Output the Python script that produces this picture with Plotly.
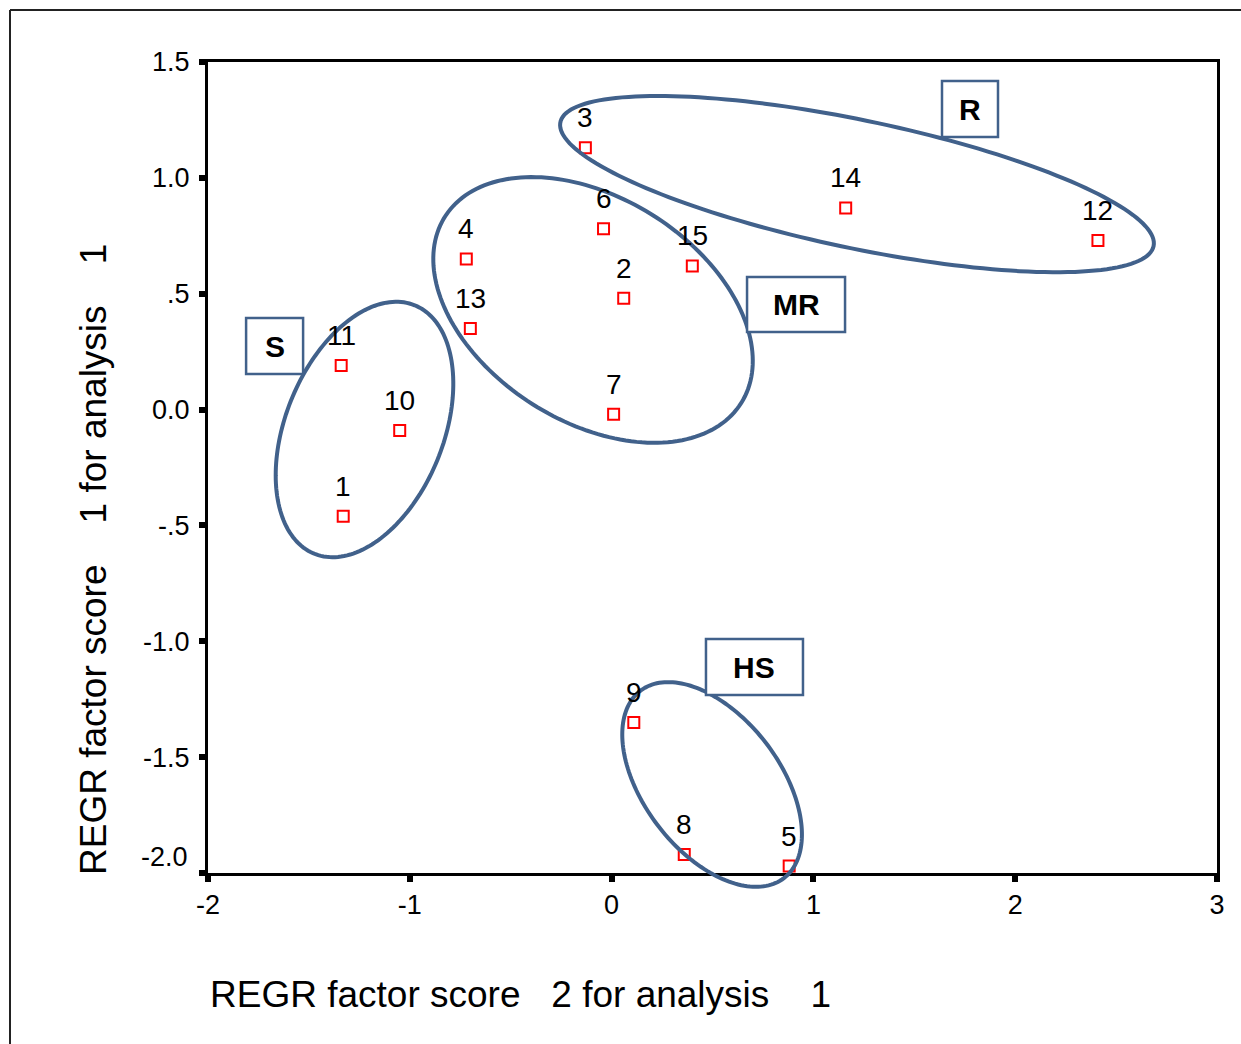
import numpy as np
import plotly.graph_objects as go

# ---- data ----
case_ids = ["1", "2", "3", "4", "5", "6", "7", "8", "9", "10", "11", "12", "13", "14", "15"]
factor2 = [-1.33, 0.06, -0.13, -0.72, 0.88, -0.04, 0.01, 0.36, 0.11, -1.05, -1.34, 2.41, -0.70, 1.16, 0.40]
factor1 = [-0.46, 0.48, 1.13, 0.65, -1.97, 0.78, -0.02, -1.92, -1.35, -0.09, 0.19, 0.73, 0.35, 0.87, 0.62]

x_ticks = [-2, -1, 0, 1, 2, 3]
x_ticktext = ["-2", "-1", "0", "1", "2", "3"]
y_ticks = [1.5, 1.0, 0.5, 0.0, -0.5, -1.0, -1.5, -2.0]
y_ticktext = ["1.5", "1.0", ".5", "0.0", "-.5", "-1.0", "-1.5", "-2.0"]

group_names = ["S", "MR", "R", "HS"]
group_label_x = [-1.67, 0.914, 1.776, 0.708]
group_label_y = [0.274, 0.453, 1.297, -1.111]
group_box_w = [57, 98, 56, 97]   # px
group_box_h = [56, 55, 56, 56]   # px

ell_cx = [-1.2245, -0.092, 1.216, 0.498]
ell_cy = [-0.086, 0.430, 0.973, -1.618]
ell_a = [134, 175, 303, 118]     # px semi-major
ell_b = [79, 112, 64, 68]        # px semi-minor
ell_theta = [-68, 32.1, 11.8, 52.5]  # deg, screen (down-right positive)

# ---- layout geometry ----
W, H = 1241, 1044
ML, MR_, MT, MB = 208, 24, 62, 171
XR = [-2, 3]
YR = [-2, 1.5]
PW = W - ML - MR_
PH = H - MT - MB


def to_px(xv):
    return (xv - XR[0]) / (XR[1] - XR[0]) * PW


def to_py(yv):
    return (yv - YR[0]) / (YR[1] - YR[0]) * PH


FONT = "Arial, 'Liberation Sans', sans-serif"
BLUE = "#41618B"

fig = go.Figure()
fig.add_trace(go.Scatter(
    x=factor2, y=factor1, mode="markers",
    marker=dict(symbol="square-open", size=11, color="#FF0000", line=dict(width=2, color="#FF0000")),
    cliponaxis=False, hoverinfo="skip", showlegend=False,
))

annotations = []
for cid, xv, yv in zip(case_ids, factor2, factor1):
    annotations.append(dict(x=xv, y=yv, text=cid, showarrow=False, yshift=30,
                            font=dict(family=FONT, size=28, color="#000")))

shapes = []
t = np.linspace(0, 2 * np.pi, 180)
for cx, cy, a, b, th in zip(ell_cx, ell_cy, ell_a, ell_b, ell_theta):
    r = np.deg2rad(th)
    dx = a * np.cos(t) * np.cos(r) - b * np.sin(t) * np.sin(r)
    dy = a * np.cos(t) * np.sin(r) + b * np.sin(t) * np.cos(r)
    xs = (to_px(cx) + dx) / PW
    ys = (to_py(cy) - dy) / PH
    path = "M " + " L ".join(f"{u:.5f},{v:.5f}" for u, v in zip(xs, ys)) + " Z"
    shapes.append(dict(type="path", path=path, xref="paper", yref="paper",
                       line=dict(color=BLUE, width=4), layer="above"))

for name, gx, gy, bw, bh in zip(group_names, group_label_x, group_label_y, group_box_w, group_box_h):
    px0, py0 = to_px(gx), to_py(gy)
    shapes.append(dict(type="rect", xref="paper", yref="paper",
                       x0=(px0 - bw / 2) / PW, x1=(px0 + bw / 2) / PW,
                       y0=(py0 - bh / 2) / PH, y1=(py0 + bh / 2) / PH,
                       line=dict(color=BLUE, width=2.5), fillcolor="white", layer="above"))
    annotations.append(dict(x=gx, y=gy, text=f"<b>{name}</b>", showarrow=False,
                            font=dict(family=FONT, size=30, color="#000")))

# outer frame (left and top lines)
fx0 = (10 - ML) / PW
fy_top = (H - MB - 10) / PH
shapes.append(dict(type="line", xref="paper", yref="paper", x0=fx0, x1=fx0, y0=fy_top, y1=-0.3,
                   line=dict(color="#222", width=2)))
shapes.append(dict(type="line", xref="paper", yref="paper", x0=fx0, x1=1.1, y0=fy_top, y1=fy_top,
                   line=dict(color="#222", width=2)))

# bottom y tick label sits slightly above its tick in the original
y_ticktext_axis = list(y_ticktext)
y_ticktext_axis[-1] = ""
annotations.append(dict(xref="paper", y=y_ticks[-1], yref="y", x=-4 / PW - 14 / PW,
                        text=y_ticktext[-1], showarrow=False, xanchor="right", yanchor="middle",
                        yshift=16, font=dict(family=FONT, size=27, color="#000")))

sp = "\u00a0"
annotations.append(dict(xref="paper", yref="paper", x=(208 - ML) / PW, y=(H - MB - 995) / PH,
                        text=f"REGR factor score{sp*3}2 for analysis{sp*4}1", showarrow=False,
                        xanchor="left", yanchor="middle",
                        font=dict(family=FONT, size=37, color="#000")))
annotations.append(dict(xref="paper", yref="paper", x=(93 - ML) / PW, y=(H - MB - 560) / PH,
                        text=f"REGR factor score{sp*4}1 for analysis{sp*4}1", showarrow=False,
                        textangle=-90, xanchor="center", yanchor="middle",
                        font=dict(family=FONT, size=37, color="#000")))

axis_common = dict(showgrid=False, zeroline=False, showline=True, linecolor="#000", linewidth=3,
                   mirror=True, ticks="outside", ticklen=6, tickwidth=6, tickcolor="#000",
                   tickfont=dict(family=FONT, size=27, color="#000"))

fig.update_layout(
    width=W, height=H,
    margin=dict(l=ML, r=MR_, t=MT, b=MB, pad=0),
    paper_bgcolor="white", plot_bgcolor="white",
    xaxis=dict(range=XR, tickvals=x_ticks, ticktext=x_ticktext, **axis_common),
    yaxis=dict(range=YR, tickvals=y_ticks, ticktext=y_ticktext_axis, ticklabelstandoff=4, **axis_common),
    shapes=shapes, annotations=annotations, showlegend=False,
)

fig.write_html("out.html")
